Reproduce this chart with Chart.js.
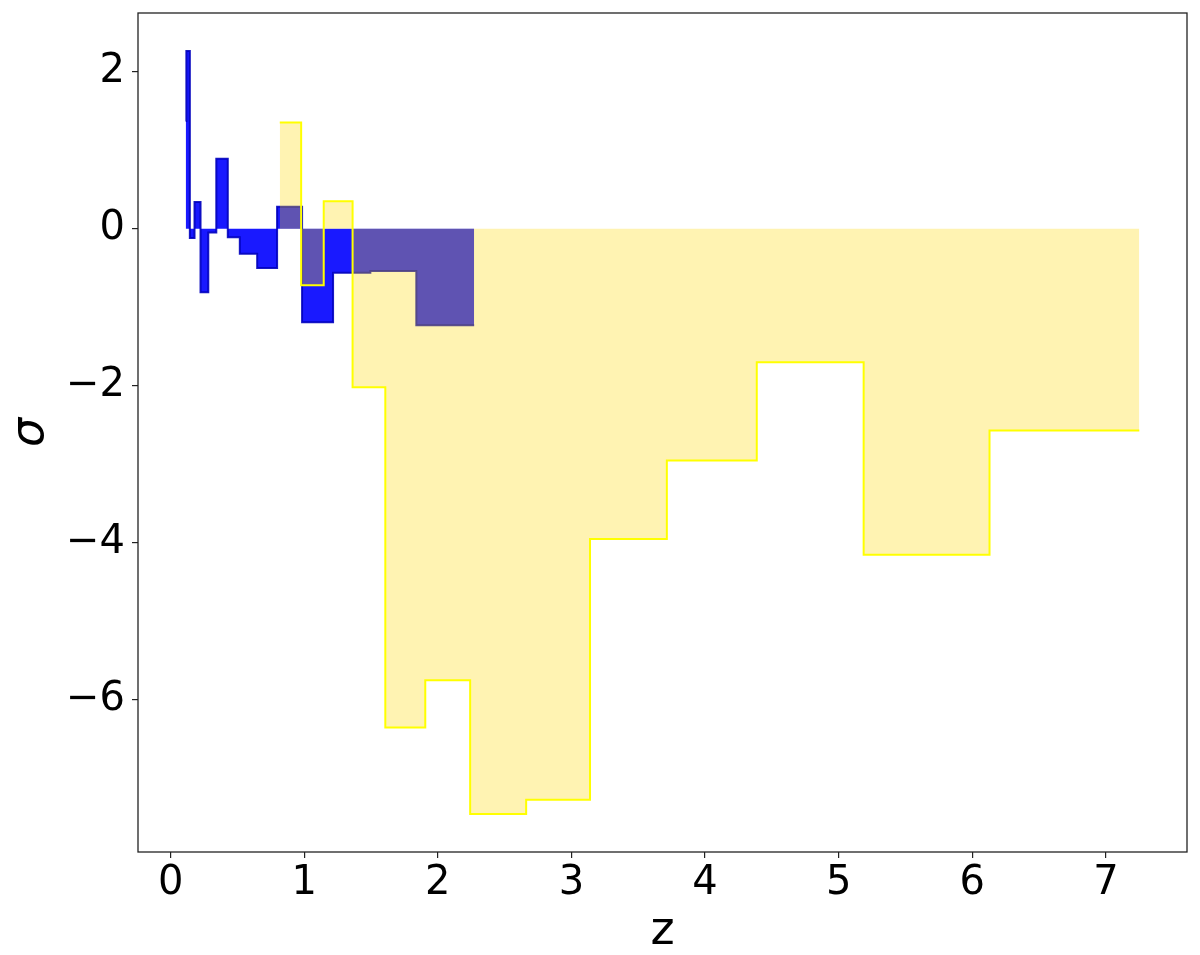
<!DOCTYPE html>
<html>
<head>
<meta charset="utf-8">
<script src="https://cdn.jsdelivr.net/npm/chart.js@4.4.1/dist/chart.umd.min.js"></script>
<style>
  html, body { margin: 0; padding: 0; background: #fff; }
  #wrap { width: 1200px; height: 955px; }
</style>
</head>
<body>
<div id="wrap"><canvas id="sigmaChart" width="1200" height="955"></canvas></div>
<script>
// bin edges (z) and step values (sigma)
const blueEdges = [0.113, 0.118, 0.144, 0.179, 0.224, 0.282, 0.342, 0.428, 0.518, 0.648, 0.797, 0.984, 1.216, 1.495, 1.839, 2.272];
const blueValues = [1.37, 2.26, -0.12, 0.34, -0.81, -0.05, 0.89, -0.11, -0.32, -0.50, 0.28, -1.19, -0.56, -0.54, -1.23];

const yellowEdges = [0.817, 0.977, 1.146, 1.362, 1.607, 1.906, 2.242, 2.661, 3.139, 3.714, 4.387, 5.187, 6.129, 7.250];
const yellowValues = [1.35, -0.72, 0.35, -2.02, -6.35, -5.75, -7.45, -7.27, -3.95, -2.95, -1.70, -4.15, -2.57];

const xTicks = [0, 1, 2, 3, 4, 5, 6, 7];
const yTicks = [-6, -4, -2, 0, 2];

// step points: each value starts at its left edge, last value runs to the final edge
function stepPoints(edges, values) {
    const pts = values.map((v, i) => ({x: edges[i], y: v}));
    pts.push({x: edges[edges.length - 1], y: values[values.length - 1]});
    return pts;
}

const frameBox = {
    id: 'frameBox',
    afterDraw(chart) {
        const {ctx, chartArea} = chart;
        ctx.save();
        ctx.strokeStyle = '#222';
        ctx.lineWidth = 1.3;
        ctx.strokeRect(chartArea.left, chartArea.top, chartArea.right - chartArea.left, chartArea.bottom - chartArea.top);
        ctx.restore();
    }
};

const fmt = v => (v < 0 ? '\u2212' + Math.abs(v) : String(v));

const ctx = document.getElementById('sigmaChart').getContext('2d');
const sigmaChart = new Chart(ctx, {
    type: 'line',
    data: {
        datasets: [{
            label: 'yellow',
            data: stepPoints(yellowEdges, yellowValues),
            borderColor: '#ffff00',
            backgroundColor: 'rgba(255, 215, 0, 0.3)',
            borderWidth: 2,
            stepped: 'before',
            pointRadius: 0,
            fill: 'origin',
        }, {
            label: 'blue',
            data: stepPoints(blueEdges, blueValues),
            borderColor: 'rgba(0, 0, 190, 0.9)',
            backgroundColor: 'rgba(0, 0, 255, 0.9)',
            borderWidth: 2,
            stepped: 'before',
            pointRadius: 0,
            fill: 'origin',
        }]
    },
    options: {
        responsive: false,
        animation: false,
        devicePixelRatio: 1,
        layout: { padding: { top: 13, right: 13, left: 0, bottom: 0 } },
        plugins: {
            legend: { display: false },
            tooltip: { enabled: false }
        },
        scales: {
            x: {
                type: 'linear',
                min: -0.244,
                max: 7.607,
                afterBuildTicks: s => { s.ticks = xTicks.map(v => ({value: v})); },
                afterFit: s => { s.height = 103; s.paddingLeft = 0; s.paddingRight = 0; },
                grid: { display: true, drawOnChartArea: false, drawTicks: true, tickLength: 6, color: '#222', lineWidth: 1.2 },
                border: { display: false },
                ticks: { color: '#000', padding: 2, font: { family: 'DejaVu Sans', size: 40 }, callback: fmt, maxRotation: 0 },
                title: { display: true, text: 'z', color: '#000', font: { family: 'DejaVu Sans', size: 46, lineHeight: 1.0 }, padding: 0 }
            },
            y: {
                type: 'linear',
                min: -7.935,
                max: 2.745,
                afterBuildTicks: s => { s.ticks = yTicks.map(v => ({value: v})); },
                afterFit: s => { s.width = 138; s.paddingTop = 0; s.paddingBottom = 0; },
                grid: { display: true, drawOnChartArea: false, drawTicks: true, tickLength: 6, color: '#222', lineWidth: 1.2 },
                border: { display: false },
                ticks: { color: '#000', padding: 7, font: { family: 'DejaVu Sans', size: 40 }, callback: fmt },
                title: { display: true, text: 'σ', color: '#000', font: { family: 'DejaVu Sans', size: 46, style: 'italic', lineHeight: 1.35 }, padding: 0 }
            }
        }
    },
    plugins: [frameBox]
});
</script>
</body>
</html>
